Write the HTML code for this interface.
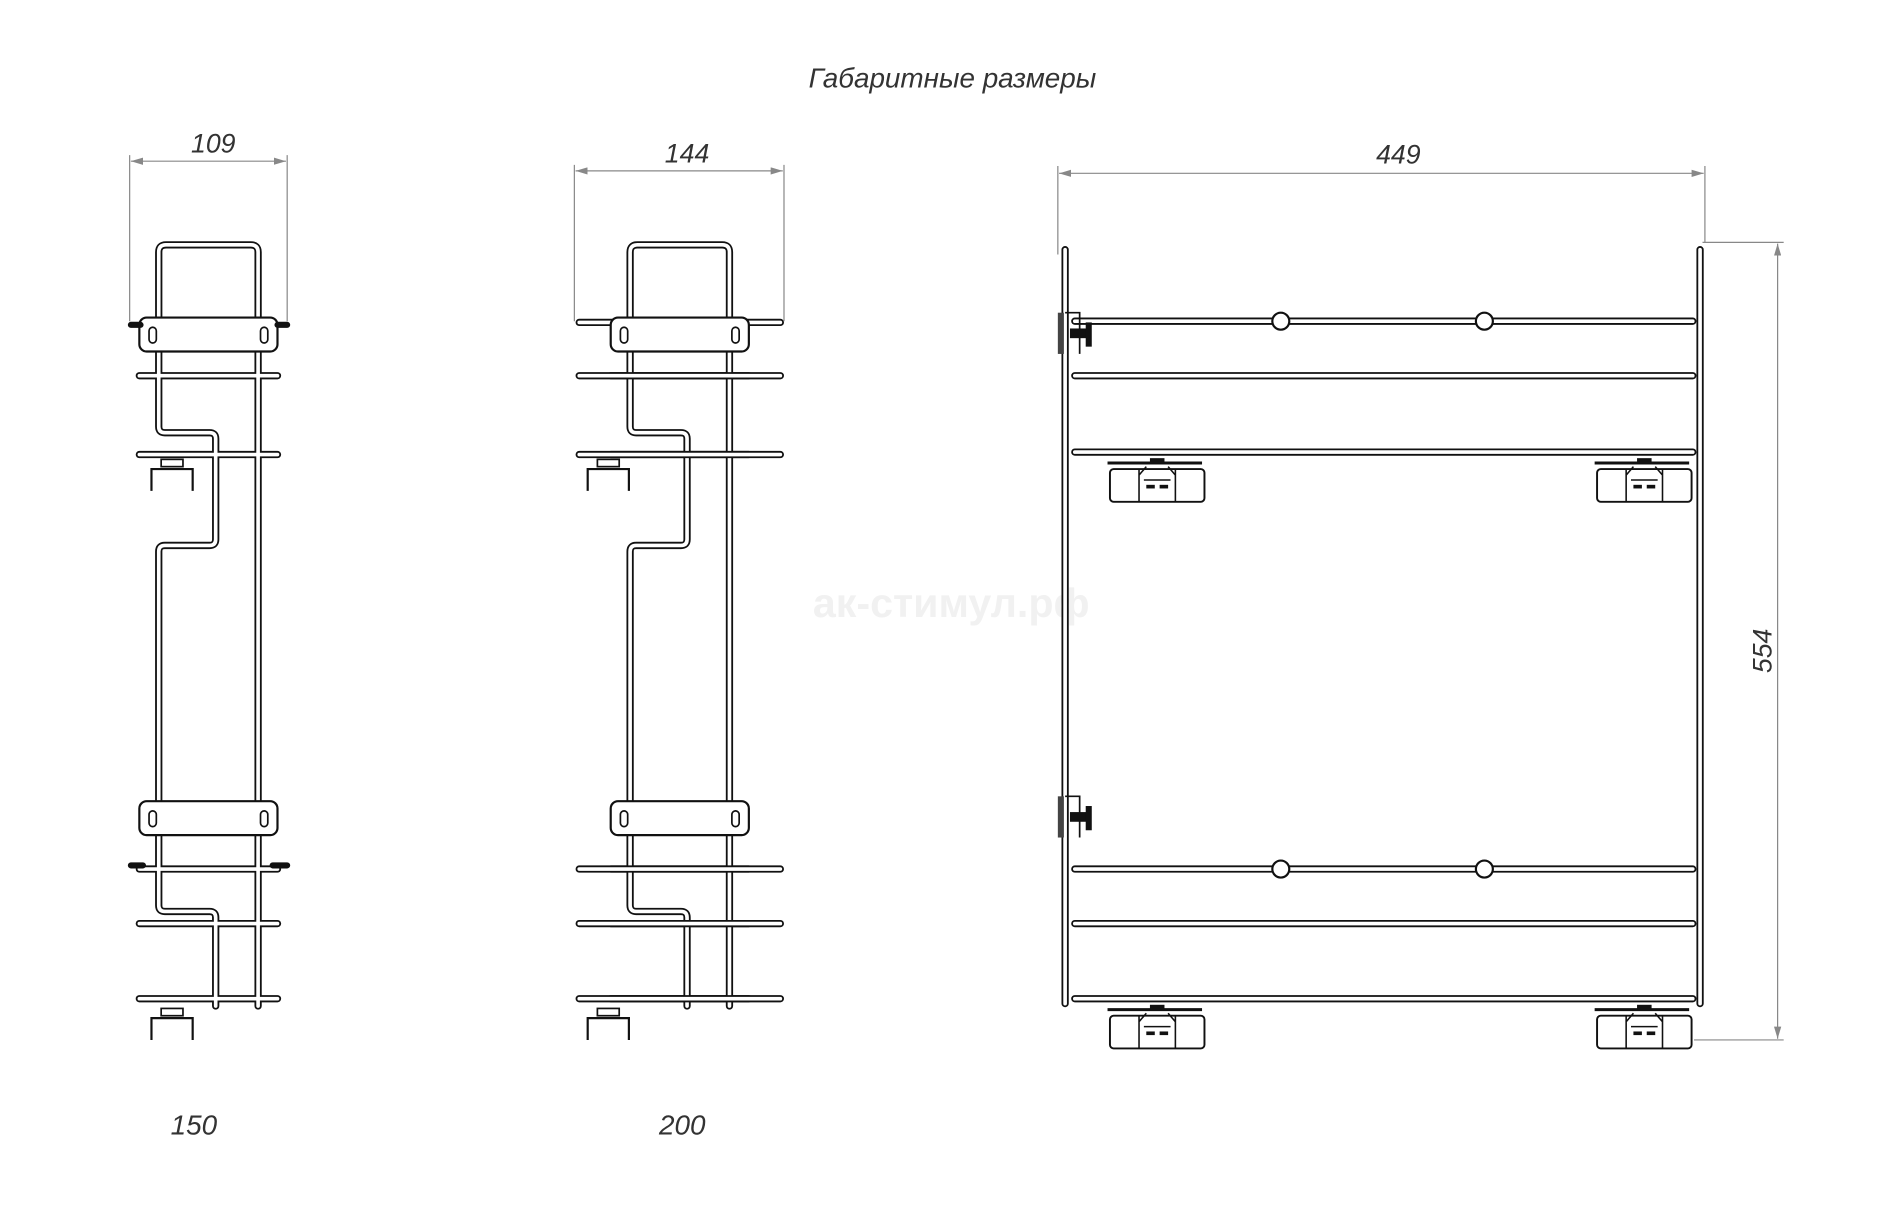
<!DOCTYPE html>
<html><head><meta charset="utf-8"><style>
html,body{margin:0;padding:0;background:#fff;width:1900px;height:1206px;overflow:hidden}
svg{display:block}
.t{fill:none;stroke:#111;stroke-width:6;stroke-linecap:round;stroke-linejoin:round}
.w{fill:none;stroke:#fff;stroke-width:3;stroke-linecap:round;stroke-linejoin:round}
.d{fill:none;stroke:#888;stroke-width:1}
.tx{font-family:"Liberation Sans","DejaVu Sans",sans-serif;font-style:italic;fill:#333}
</style></head><body>
<svg width="1900" height="1206" viewBox="0 0 1568 995" preserveAspectRatio="none">
<defs>
<marker id="a" viewBox="0 0 10 6" refX="10" refY="3" markerWidth="10" markerHeight="6" orient="auto-start-reverse" markerUnits="userSpaceOnUse"><path d="M0,0 L10,3 L0,6 z" fill="#888"/></marker>
<g id="side">
  <path d="M178,830 V757 Q178,752 173,752 H136 Q131,752 131,747 V455 Q131,450 136,450 H173 Q178,450 178,445 V362 Q178,357 173,357 H136 Q131,357 131,352 V208 Q131,202 137,202 H207 Q213,202 213,208 V830"/>
  <path d="M115,310 H229"/><path d="M115,375 H229"/><path d="M115,717 H229"/><path d="M115,762 H229"/><path d="M115,824 H229"/>
</g>
<g id="plate">
  <rect x="-57" y="-14" width="114" height="28" rx="6" fill="#fff" stroke="#111" stroke-width="1.8"/>
  <rect x="-49" y="-6" width="6" height="13" rx="3" fill="none" stroke="#111" stroke-width="1.4"/>
  <rect x="43" y="-6" width="6" height="13" rx="3" fill="none" stroke="#111" stroke-width="1.4"/>
</g>
<g id="hook">
  <rect x="-10" y="-6" width="18" height="6" fill="none" stroke="#111" stroke-width="1.4"/>
  <path d="M-18,20 V2 H16 V20" fill="none" stroke="#111" stroke-width="1.8"/>
</g>
<g id="run">
  <path d="M-2,0 H76" stroke="#111" stroke-width="2.5"/>
  <rect x="0" y="5" width="78" height="27" rx="3" fill="#fff" stroke="#111" stroke-width="1.6"/>
  <path d="M24,5 V32 M54,5 V32 M28,14 H50 M24,10 L30,3 M54,10 L48,3" fill="none" stroke="#111" stroke-width="1.3"/>
  <rect x="30" y="18" width="7" height="3" fill="#111"/><rect x="41" y="18" width="7" height="3" fill="#111"/>
  <rect x="33" y="-4" width="12" height="4" fill="#111"/>
</g>
<g id="clamp">
  <rect x="-6" y="0" width="5" height="34" fill="#444"/>
  <path d="M0,0 H12 V34" fill="none" stroke="#111" stroke-width="1.4"/>
  <rect x="4" y="13" width="16" height="8" fill="#111"/><rect x="17" y="8" width="5" height="20" fill="#111"/>
</g>
</defs>

<text class="tx" x="786" y="72" font-size="23" text-anchor="middle">Габаритные размеры</text>
<text x="785" y="509" font-family="Liberation Sans,sans-serif" font-weight="bold" font-size="34" fill="#f1f1f1" text-anchor="middle">ак-стимул.рф</text>

<use href="#side" class="t"/><use href="#side" class="w"/>
<use href="#plate" x="172" y="276"/><use href="#plate" x="172" y="675"/>
<path d="M108,268 h8 M229,268 h8 M108,714 h10 M225,714 h12" stroke="#111" stroke-width="5" stroke-linecap="round"/>
<use href="#hook" x="143" y="385"/><use href="#hook" x="143" y="838"/>
<path class="d" d="M107,128 V265 M237,128 V265"/>
<path class="d" d="M108,133 H236" marker-start="url(#a)" marker-end="url(#a)"/>
<text class="tx" x="176" y="126" font-size="22" text-anchor="middle">109</text>
<text class="tx" x="160" y="936" font-size="23" text-anchor="middle">150</text>

<g transform="translate(389,0)">
<use href="#side" class="t"/><use href="#side" class="w"/>
<use href="#hook" x="114" y="385"/><use href="#hook" x="114" y="838"/>
</g>
<path class="t" d="M478,266 H644 M478,717 H644"/><path class="w" d="M478,266 H644 M478,717 H644"/>
<path class="t" d="M478,310 H644 M478,375 H644 M478,762 H644 M478,824 H644"/><path class="w" d="M478,310 H644 M478,375 H644 M478,762 H644 M478,824 H644"/>
<use href="#plate" x="561" y="276"/><use href="#plate" x="561" y="675"/>
<path class="d" d="M474,136 V265 M647,136 V265"/>
<path class="d" d="M475,141 H646" marker-start="url(#a)" marker-end="url(#a)"/>
<text class="tx" x="567" y="134" font-size="22" text-anchor="middle">144</text>
<text class="tx" x="563" y="936" font-size="23" text-anchor="middle">200</text>

<g id="rv">
<path d="M879,206 V828 M1403,206 V828"/>
<path d="M887,265 H1397 M887,310 H1397 M887,373 H1397 M887,717 H1397 M887,762 H1397 M887,824 H1397"/>
</g>
<use href="#rv" class="t"/>
<g class="w"><path d="M879,206 V828 M1403,206 V828"/><path d="M887,265 H1397 M887,310 H1397 M887,373 H1397 M887,717 H1397 M887,762 H1397 M887,824 H1397"/></g>
<g fill="#fff" stroke="#111" stroke-width="1.8">
<circle cx="1057" cy="265" r="7"/><circle cx="1225" cy="265" r="7"/>
<circle cx="1057" cy="717" r="7"/><circle cx="1225" cy="717" r="7"/>
</g>
<use href="#clamp" x="879" y="258"/><use href="#clamp" x="879" y="657"/>
<use href="#run" x="916" y="382"/><use href="#run" x="1318" y="382"/>
<use href="#run" x="916" y="833"/><use href="#run" x="1318" y="833"/>
<path class="d" d="M873,137 V210 M1407,137 V200 M1405,200 H1472 M1398,858 H1472"/>
<path class="d" d="M874,143 H1406" marker-start="url(#a)" marker-end="url(#a)"/>
<path class="d" d="M1467,201 V857" marker-start="url(#a)" marker-end="url(#a)"/>
<text class="tx" x="1154" y="135" font-size="22" text-anchor="middle">449</text>
<text class="tx" font-size="22" text-anchor="middle" transform="translate(1462,537) rotate(-90)">554</text>
</svg>
</body></html>
